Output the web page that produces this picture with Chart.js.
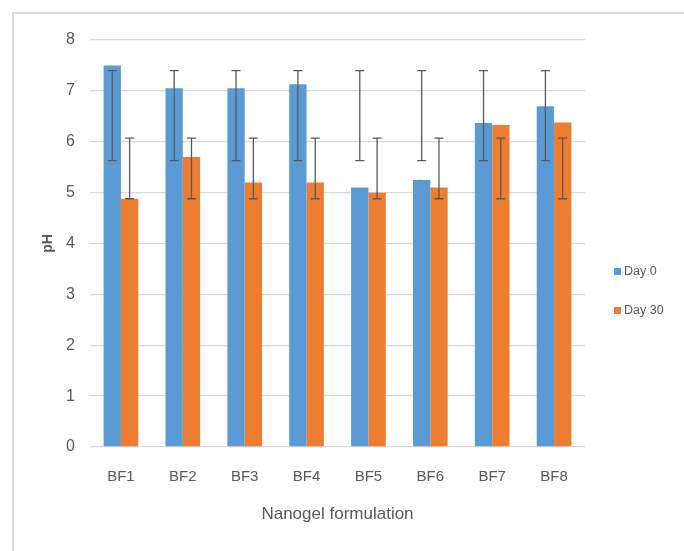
<!DOCTYPE html>
<html>
<head>
<meta charset="utf-8">
<script src="https://cdn.jsdelivr.net/npm/chart.js@4/dist/chart.umd.min.js"></script>
<style>
    body { margin: 0; background: #fff; }
    .frame {
        position: absolute; left: 12px; top: 12px;
        width: 720px; height: 600px;
        border: 2px solid #dadada;
    }
    #myChart { position: absolute; left: 0; top: 0; }
</style>
</head>
<body>
<div class="frame"></div>
<canvas id="myChart" width="684" height="551"></canvas>
<script>
// Data
const formulations = ['BF1', 'BF2', 'BF3', 'BF4', 'BF5', 'BF6', 'BF7', 'BF8'];
const day0 = [7.5, 7.05, 7.05, 7.13, 5.1, 5.25, 6.37, 6.7];
const day30 = [4.88, 5.7, 5.2, 5.2, 5.0, 5.1, 6.33, 6.38];
// error bar ends (same range on every bar in the original)
const day0Low = [5.63, 5.63, 5.63, 5.63, 5.63, 5.63, 5.63, 5.63];
const day0High = [7.4, 7.4, 7.4, 7.4, 7.4, 7.4, 7.4, 7.4];
const day30Low = [4.88, 4.88, 4.88, 4.88, 4.88, 4.88, 4.88, 4.88];
const day30High = [6.07, 6.07, 6.07, 6.07, 6.07, 6.07, 6.07, 6.07];
const yTicks = [0, 1, 2, 3, 4, 5, 6, 7, 8];

const FONT = '"Liberation Sans", Arial, sans-serif';
const TEXT = '#595959';

// Draws the error bars on top of the bars
const errorBars = {
    id: 'errorBars',
    afterDatasetsDraw(chart) {
        const ctx = chart.ctx;
        const y = chart.scales.y;
        chart.data.datasets.forEach((ds, d) => {
            const meta = chart.getDatasetMeta(d);
            meta.data.forEach((bar, i) => {
                const top = y.getPixelForValue(ds.errHigh[i]);
                const bottom = y.getPixelForValue(ds.errLow[i]);
                ctx.save();
                ctx.strokeStyle = '#5a5a5a';
                ctx.lineWidth = 1.3;
                ctx.beginPath();
                ctx.moveTo(bar.x, top);
                ctx.lineTo(bar.x, bottom);
                ctx.moveTo(bar.x - 4.5, top);
                ctx.lineTo(bar.x + 4.5, top);
                ctx.moveTo(bar.x - 4.5, bottom);
                ctx.lineTo(bar.x + 4.5, bottom);
                ctx.stroke();
                ctx.restore();
            });
        });
    }
};

// Legend on the right, like the Excel one
const sideLegend = {
    id: 'sideLegend',
    afterDraw(chart) {
        const ctx = chart.ctx;
        const rows = [268, 307];
        ctx.save();
        ctx.font = '12.5px ' + FONT;
        ctx.textBaseline = 'middle';
        chart.data.datasets.forEach((ds, i) => {
            ctx.fillStyle = ds.backgroundColor;
            ctx.fillRect(614, rows[i], 7, 7);
            ctx.fillStyle = TEXT;
            ctx.fillText(ds.label, 624, rows[i] + 3.5);
        });
        ctx.restore();
    }
};

const ctx = document.getElementById('myChart').getContext('2d');

const myChart = new Chart(ctx, {
    type: 'bar',
    data: {
        labels: formulations,
        datasets: [{
            label: 'Day 0',
            data: day0,
            errLow: day0Low,
            errHigh: day0High,
            backgroundColor: '#5b9bd5'
        }, {
            label: 'Day 30',
            data: day30,
            errLow: day30Low,
            errHigh: day30High,
            backgroundColor: '#ed7d31'
        }]
    },
    options: {
        responsive: false,
        animation: false,
        layout: { padding: { top: 40, right: 99, bottom: 0, left: 0 } },
        datasets: {
            bar: { categoryPercentage: 0.56, barPercentage: 1 }
        },
        plugins: {
            legend: { display: false },
            tooltip: { enabled: false }
        },
        scales: {
            x: {
                grid: { display: false },
                border: { display: false },
                ticks: { color: TEXT, font: { family: FONT, size: 15 }, padding: 13 },
                title: {
                    display: true,
                    text: 'Nanogel formulation',
                    color: TEXT,
                    font: { family: FONT, size: 17 },
                    padding: { top: 0, bottom: 26 }
                },
                afterFit(scale) { scale.height = 104; }
            },
            y: {
                min: 0,
                max: 8,
                afterBuildTicks(scale) {
                    scale.ticks = yTicks.map(v => ({ value: v }));
                },
                grid: { color: '#d9d9d9', drawTicks: false, lineWidth: 1.3 },
                border: { display: false },
                ticks: { color: TEXT, font: { family: FONT, size: 16 }, padding: 15 },
                title: {
                    display: true,
                    text: 'pH',
                    color: TEXT,
                    font: { family: FONT, size: 14, weight: 'bold' },
                    padding: { top: 40, bottom: 0 }
                },
                afterFit(scale) { scale.width = 90; }
            }
        }
    },
    plugins: [errorBars, sideLegend]
});
</script>
</body>
</html>
